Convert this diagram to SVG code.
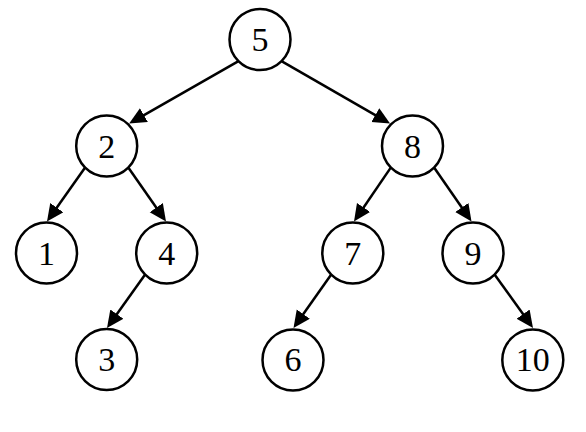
<svg xmlns="http://www.w3.org/2000/svg" width="586" height="432" viewBox="0 0 586 432">
<style>
.n circle{fill:#fff;stroke:#000;stroke-width:2.5}
.n text{font-family:"Liberation Serif","Times New Roman",serif;font-size:34px;text-anchor:middle;fill:#000}
.e line{stroke:#000;stroke-width:2.5;marker-end:url(#ah)}
</style>
<defs>
<marker id="ah" markerUnits="userSpaceOnUse" markerWidth="18" markerHeight="18" refX="10" refY="8" orient="auto">
<path d="M0,0 L17,8 L0,16 z" fill="#000"/>
</marker>
</defs>
<rect width="586" height="432" fill="#fff"/>
<g id="edges" class="e">
<line x1="238.08" y1="61.42" x2="135.23" y2="120.08"/>
<line x1="281.92" y1="61.42" x2="383.98" y2="120.06"/>
<line x1="84.78" y1="167.92" x2="51.03" y2="215.78"/>
<line x1="128.62" y1="167.92" x2="161.99" y2="215.76"/>
<line x1="390.58" y1="167.92" x2="357.95" y2="215.72"/>
<line x1="434.42" y1="167.92" x2="467.52" y2="215.74"/>
<line x1="144.78" y1="274.92" x2="111.06" y2="322.30"/>
<line x1="330.88" y1="274.92" x2="297.53" y2="322.28"/>
<line x1="494.92" y1="274.92" x2="528.92" y2="322.31"/>
</g>
<g id="n5" class="n"><circle cx="260" cy="39.5" r="30.5"/><text x="260" y="51">5</text></g>
<g id="n2" class="n"><circle cx="106.7" cy="146" r="30.5"/><text x="106.7" y="157.5">2</text></g>
<g id="n8" class="n"><circle cx="412.5" cy="146" r="30.5"/><text x="412.5" y="157.5">8</text></g>
<g id="n1" class="n"><circle cx="46.5" cy="253" r="30.5"/><text x="46.5" y="264.5">1</text></g>
<g id="n4" class="n"><circle cx="166.7" cy="253" r="30.5"/><text x="166.7" y="264.5">4</text></g>
<g id="n7" class="n"><circle cx="352.8" cy="253" r="30.5"/><text x="352.8" y="264.5">7</text></g>
<g id="n9" class="n"><circle cx="473" cy="253" r="30.5"/><text x="473" y="264.5">9</text></g>
<g id="n3" class="n"><circle cx="106.7" cy="359.5" r="30.5"/><text x="106.7" y="370.5">3</text></g>
<g id="n6" class="n"><circle cx="293" cy="360" r="30.5"/><text x="293" y="371">6</text></g>
<g id="n10" class="n"><circle cx="532.8" cy="360" r="30.5"/><text x="532.8" y="371">10</text></g>
</svg>
